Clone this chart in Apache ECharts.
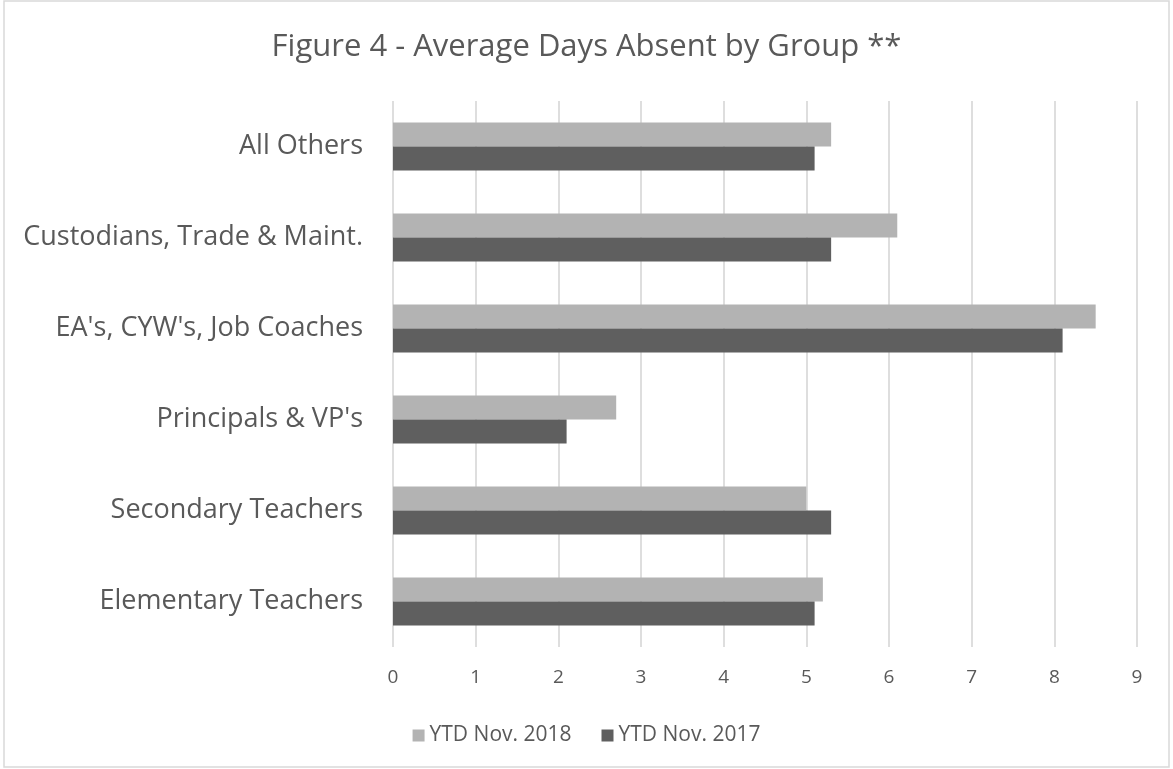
<!DOCTYPE html>
<html>
<head>
<meta charset="utf-8">
<title>Figure 4 - Average Days Absent by Group</title>
<script src="https://cdn.jsdelivr.net/npm/echarts@6/dist/echarts.min.js"></script>
<style>
  html, body { margin: 0; padding: 0; background: #fff; }
  #chart { width: 1173px; height: 769px; }
</style>
</head>
<body>
<div id="chart"></div>
<script>
// groups, listed top to bottom as in the figure
const groups = [
  'All Others',
  'Custodians, Trade & Maint.',
  "EA's, CYW's, Job Coaches",
  "Principals & VP's",
  'Secondary Teachers',
  'Elementary Teachers'
]
const ytd2018 = [5.3, 6.1, 8.5, 2.7, 5.0, 5.2]
const ytd2017 = [5.1, 5.3, 8.1, 2.1, 5.3, 5.1]
const seriesNames = ['YTD Nov. 2018', 'YTD Nov. 2017']

const textColor = '#595959'
const font = '"Open Sans", "Noto Sans", sans-serif'

const chart = echarts.init(document.getElementById('chart'))

chart.setOption({
  animation: false,
  textStyle: { fontFamily: font },
  title: {
    text: 'Figure 4 - Average Days Absent by Group **',
    left: 'center',
    top: 27,
    textStyle: { color: textColor, fontSize: 31, fontWeight: 'normal', fontFamily: font }
  },
  // chart frame
  graphic: [{
    type: 'rect',
    silent: true,
    shape: { x: 4, y: 1, width: 1165, height: 766 },
    style: { fill: 'none', stroke: '#d9d9d9', lineWidth: 1.5 }
  }],
  legend: {
    data: seriesNames,
    left: 'center',
    top: 720,
    icon: 'rect',
    itemWidth: 12,
    itemHeight: 12,
    itemGap: 30,
    textStyle: { color: textColor, fontSize: 21, fontFamily: font }
  },
  grid: { left: 393, right: 36, top: 101, bottom: 122 },
  xAxis: {
    type: 'value',
    min: 0,
    max: 9,
    interval: 1,
    axisLine: { show: false },
    axisTick: { show: false },
    axisLabel: { color: textColor, fontSize: 19, margin: 21 },
    splitLine: { lineStyle: { color: '#dedede', width: 2 } }
  },
  yAxis: {
    type: 'category',
    data: groups,
    inverse: true,
    axisLine: { show: false },
    axisTick: { show: false },
    axisLabel: { color: textColor, fontSize: 27, margin: 30 }
  },
  series: [
    {
      name: seriesNames[0],
      type: 'bar',
      data: ytd2018,
      itemStyle: { color: '#b3b3b3' },
      barGap: '0%',
      barCategoryGap: '47%'
    },
    {
      name: seriesNames[1],
      type: 'bar',
      data: ytd2017,
      itemStyle: { color: '#5f5f5f' },
      barGap: '0%',
      barCategoryGap: '47%'
    }
  ]
})
</script>
</body>
</html>
